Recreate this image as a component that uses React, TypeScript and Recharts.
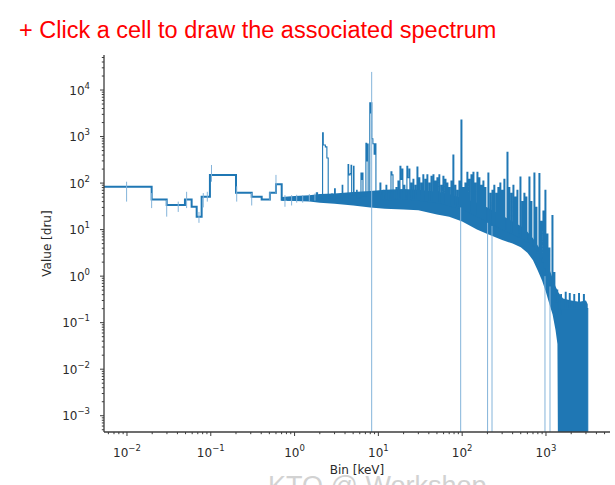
import React from 'react'
import { ComposedChart, Line, Area, Scatter, ErrorBar, XAxis, YAxis, Label } from 'recharts'

const BLUE = '#1f77b4'
const ERR_BLUE = '#84b4da'
const AXIS = '#3c3c3c'
const TEXT = '#2a2a2a'
const FONT = '"DejaVu Sans", sans-serif'

const X_DOMAIN: [number, number] = [0.00532, 5808]
const Y_DOMAIN: [number, number] = [0.000447, 56600]

const xMajor = [0.01, 0.1, 1, 10, 100, 1000]
const yMajor = [0.001, 0.01, 0.1, 1, 10, 100, 1000, 10000]

// spectrum, drawn as steps: bin start [keV] and value [dru]
const binStart = [
  0.005, 0.0197, 0.0298, 0.0492, 0.0591, 0.0679, 0.0778, 0.0977, 0.2, 0.308, 0.405, 0.508, 0.6, 0.702,
  0.76, 0.82, 0.88, 0.95, 1.02, 1.1, 1.18, 1.26, 1.35, 1.45, 1.55, 1.65, 1.75, 1.82, 1.88, 1.98,
  2.1, 2.16, 2.2, 2.33, 2.43, 2.52, 2.6, 2.75, 2.85, 3.0, 3.06, 3.3, 3.45, 3.7, 3.76, 4.0,
  4.35, 4.42, 4.6, 4.72, 4.8, 5.05, 5.12, 5.5, 5.58, 6.2, 6.3, 6.45, 6.55, 7.1, 7.25, 7.45, 7.55,
  7.9, 8.05, 8.2, 8.35, 8.6, 8.9, 9.1, 9.35,
  10.45, 10.7, 11.35, 11.6, 12.33, 12.6, 13.03, 13.35, 14.14, 14.5, 14.95, 16.22, 16.6, 17.14, 17.55,
  18.11, 18.55, 19.14, 19.6, 20.2, 20.7, 21.9, 22.4, 23.2, 23.75, 24.5, 25.1, 25.9, 26.5, 27.4, 28,
  28.9, 29.6, 30.5, 31.2, 32.2, 33, 34, 34.8, 36, 36.9, 38, 38.9, 40.2, 41.2, 42.5, 43.5, 44.9, 46,
  47.3, 48.5, 50, 51.2, 52.8, 54, 55.8, 57.2, 59, 60.5, 62.4, 64, 65.9, 67.5, 69.5, 71.2, 73.5, 75.3,
  77.6, 79.5, 82, 84, 86.7, 88.8, 91.6, 93.9, 96.8, 99.2, 102.3, 104.8, 108, 110.7, 114, 116.8,
  120.5, 123.5, 127.4, 130.5, 134.6, 138, 142.2, 145.7, 150.3, 154, 158.6, 162.5, 167.6, 171.8,
  177, 181.4, 187, 191.7, 203, 208, 215, 220, 227, 232.7, 239, 245, 253, 259, 267, 273.7, 282, 289,
  298, 305.5, 315, 323, 343, 351.6, 361, 370, 382, 391.5, 404, 414, 427, 437.7, 451, 462, 490, 502,
  518, 531, 546, 560, 577, 591, 627, 643, 662, 678.6, 719, 737, 760, 779, 825, 845.6, 871, 893,
  921, 944, 973, 997, 1028, 1054, 1086, 1113, 1180, 1210, 1245, 1276, 1350, 1380,
  1500, 1530, 1700, 1740, 1900, 1945, 2150, 2200, 2450, 2510, 2800, 2870, 3150,
]
const binValue = [
  83, 44.6, 33.6, 44.6, 31, 19, 51, 149, 62, 51, 44.6, 62, 94, 44,
  47, 43, 46, 44, 48, 44, 47, 45, 49, 46, 50, 47, 52, 62, 49, 54,
  48, 1200, 660, 600, 345, 55, 48, 58, 45, 75, 48, 55, 44, 90, 50, 47,
  250, 150, 160, 240, 55, 230, 58, 70, 48, 165, 120, 165, 52, 720, 300, 690, 60,
  5300, 3200, 5300, 900, 700, 420, 700, 60,
  100, 45, 70, 44, 90, 45, 60, 44, 175, 150, 45, 80, 45, 110, 46,
  230, 120, 200, 46, 90, 45, 230, 130, 200, 45, 100, 44, 120, 44, 90, 44,
  220, 43, 130, 42, 100, 42, 150, 41, 120, 41, 150, 40, 100, 40, 140, 39, 150, 39,
  110, 38, 130, 38, 150, 37, 90, 36, 140, 35, 120, 34, 100, 33, 80, 32, 110, 31,
  400, 31, 90, 30, 70, 29, 110, 28, 2250, 27, 80, 26, 100, 25, 170, 24,
  120, 23, 150, 22, 170, 21, 100, 20, 170, 19, 130, 18, 90, 17,
  110, 16, 80, 15, 165, 14, 60, 13, 70, 12.5, 90, 12, 60, 11.5, 80, 11, 100, 10.5,
  70, 10, 120, 9.5, 460, 9, 80, 8.5, 60, 8, 90, 7.6, 50, 7.2, 70, 6.9, 135, 6.5,
  40, 6.2, 60, 5.8, 50, 5.4, 135, 4.8, 40, 4.4, 165, 3.8, 30, 3.2, 160, 2.5, 15, 2,
  25, 1.5, 70, 1.1, 8, 0.85, 4, 0.6, 20, 0.4, 1.2, 0.28, 0.5, 0.15,
  0.4, 0.2, 0.45, 0.2, 0.42, 0.2, 0.4, 0.2, 0.42, 0.2, 0.4, 0.2, 0.0001,
]

// noise band of the dense high-energy part
const bandE = [0.7, 1, 1.5, 2, 3, 5, 8, 12, 20, 30, 50, 70, 100, 150, 200, 300, 400, 500, 600, 700,
  800, 900, 1000, 1100, 1200, 1300, 1370, 1400, 1600, 2000, 2500, 3000, 3150]
const bandLo = [42, 41, 40, 38, 36, 33, 30, 28, 27, 26, 21, 19, 15, 10, 8, 6, 5, 4.2, 3.2, 2.2,
  1.3, 0.8, 0.45, 0.25, 0.15, 0.07, 0.035, 0.00001, 0.00001, 0.00001, 0.00001, 0.00001, 0.00001]
const bandHi = [50, 53, 55, 58, 60, 64, 68, 72, 75, 72, 65, 58, 48, 38, 30, 20, 15, 12, 9, 6.5,
  4.5, 3.3, 2.2, 1.4, 0.9, 0.6, 0.5, 0.45, 0.33, 0.3, 0.28, 0.3, 0.25]

// error bars of the low-energy bins
const errE = [0.0099, 0.0197, 0.0298, 0.0409, 0.0515, 0.0723, 0.0814, 0.0909, 0.102, 0.204, 0.308,
  0.508, 0.6, 0.768, 0.922, 1.06, 1.25, 1.5, 1.75]
const errV = [83, 44.6, 33.6, 33.6, 44.6, 19, 51, 51, 149, 62, 51, 62, 94, 47, 44, 48, 45, 50, 52]
const errLo = [40, 29, 19, 24, 29, 14, 30, 40, 107, 40, 33, 43, 60, 31, 33, 38, 38, 40, 42]
const errHi = [107, 61, 43, 40, 65, 24, 61, 65, 245, 85, 61, 65, 150, 55, 55, 56, 55, 58, 60]

// bins whose error bar reaches below zero
const wideE = [8.32, 96, 201, 227, 973, 1117]
const wideV = [5300, 30, 14, 12, 1, 0.6]
const wideHi = [24500, 30, 14, 12, 1, 0.6]

function minorTicks([lo, hi]: [number, number]) {
  const out: number[] = []
  for (let e = -5; e <= 5; e++) {
    for (let m = 2; m <= 9; m++) {
      const v = m * Math.pow(10, e)
      if (v >= lo && v <= hi) out.push(v)
    }
  }
  return out
}

const xTicks = [...xMajor, ...minorTicks(X_DOMAIN)].sort((a, b) => a - b)
const yTicks = [...yMajor, ...minorTicks(Y_DOMAIN)].sort((a, b) => a - b)

const spectrum = binStart.map((x, i) => ({ x, y: binValue[i] }))
// coarse low-energy bins get the thicker line, the dense part a thinner one
const lowPart = spectrum.filter((d) => d.x <= 0.76)
const densePart = spectrum.filter((d) => d.x >= 0.702)
const band = bandE.map((x, i) => ({ x, y: [bandLo[i], bandHi[i]] }))
const errData = errE.map((x, i) => ({ x, y: errV[i], err: [errV[i] - errLo[i], errHi[i] - errV[i]] }))
const wideData = wideE.map((x, i) => ({
  x,
  y: wideV[i],
  err: [wideV[i] - Y_DOMAIN[0], wideHi[i] - wideV[i]],
}))

function expLabel(v: number) {
  const e = Math.round(Math.log10(v))
  return e < 0 ? '\u2212' + -e : String(e)
}

function XTick(props: any) {
  const { x, y, payload } = props
  const major = xMajor.includes(payload.value)
  return (
    <g>
      <line x1={x} x2={x} y1={y} y2={y + (major ? 4 : 2.2)} stroke={AXIS} strokeWidth={1} />
      {major && (
        <text x={x} y={y + 25} textAnchor="middle" fill={TEXT} fontFamily={FONT} fontSize={12}>
          10<tspan dy={-6} fontSize={8.5}>{expLabel(payload.value)}</tspan>
        </text>
      )}
    </g>
  )
}

function YTick(props: any) {
  const { x, y, payload } = props
  const major = yMajor.includes(payload.value)
  return (
    <g>
      <line x1={x} x2={x - (major ? 4 : 2.2)} y1={y} y2={y} stroke={AXIS} strokeWidth={1} />
      {major && (
        <text x={x - 14} y={y + 4.5} textAnchor="end" fill={TEXT} fontFamily={FONT} fontSize={12}>
          10<tspan dy={-6} fontSize={8.5}>{expLabel(payload.value)}</tspan>
        </text>
      )}
    </g>
  )
}

export default function App() {
  return (
    <div style={{ position: 'absolute', left: 0, top: 0, width: 615, height: 485, background: '#fff', overflow: 'hidden' }}>
      <div
        style={{
          position: 'absolute',
          left: 19,
          top: 19,
          lineHeight: '23px',
          fontSize: 23.5,
          fontFamily: '"Liberation Sans", Arial, sans-serif',
          color: '#ff0000',
          whiteSpace: 'nowrap',
        }}
      >
        + Click a cell to draw the associated spectrum
      </div>
      {/* slide footer peeking in at the bottom */}
      <div
        style={{
          position: 'absolute',
          left: 268,
          top: 473,
          lineHeight: '27px',
          fontSize: 27,
          fontFamily: '"Liberation Sans", Arial, sans-serif',
          color: '#d2d2d2',
          whiteSpace: 'nowrap',
        }}
      >
        KTO @ Workshop
      </div>
      <ComposedChart width={615} height={485} margin={{ top: 55, right: 5, bottom: 0, left: 40 }} style={{ position: 'absolute', left: 0, top: 0 }}>
        <XAxis
          dataKey="x"
          type="number"
          scale="log"
          domain={X_DOMAIN}
          allowDataOverflow
          ticks={xTicks}
          interval={0}
          tick={(p: any) => <XTick {...p} />}
          tickLine={false}
          tickSize={0}
          tickMargin={0}
          height={53}
          axisLine={{ stroke: AXIS, strokeWidth: 1.3 }}
        >
          <Label
            content={(p: any) => {
              const vb = p.viewBox
              return (
                <text x={vb.x + vb.width / 2} y={vb.y + 42} textAnchor="middle" fill={TEXT} fontFamily={FONT} fontSize={12}>
                  Bin [keV]
                </text>
              )
            }}
          />
        </XAxis>
        <XAxis
          xAxisId="top"
          orientation="top"
          type="number"
          scale="log"
          domain={X_DOMAIN}
          allowDataOverflow
          height={0}
          tick={false}
          tickLine={false}
          axisLine={{ stroke: AXIS, strokeWidth: 1.3 }}
        />
        <YAxis
          type="number"
          scale="log"
          domain={Y_DOMAIN}
          allowDataOverflow
          ticks={yTicks}
          interval={0}
          tick={(p: any) => <YTick {...p} />}
          tickLine={false}
          tickSize={0}
          tickMargin={0}
          width={64}
          axisLine={{ stroke: AXIS, strokeWidth: 1.3 }}
        >
          <Label
            content={(p: any) => {
              const vb = p.viewBox
              const cx = vb.x + 7
              const cy = vb.y + vb.height / 2
              return (
                <text
                  x={cx}
                  y={cy}
                  transform={`rotate(-90, ${cx}, ${cy})`}
                  textAnchor="middle"
                  dominantBaseline="central"
                  fill={TEXT}
                  fontFamily={FONT}
                  fontSize={12}
                >
                  Value [dru]
                </text>
              )
            }}
          />
        </YAxis>
        <YAxis
          yAxisId="right"
          orientation="right"
          type="number"
          scale="log"
          domain={Y_DOMAIN}
          allowDataOverflow
          width={0}
          tick={false}
          tickLine={false}
          axisLine={{ stroke: AXIS, strokeWidth: 1.3 }}
        />
        <Area
          data={band}
          dataKey="y"
          type="linear"
          stroke="none"
          fill={BLUE}
          fillOpacity={1}
          isAnimationActive={false}
        />
        <Line
          data={lowPart}
          dataKey="y"
          type="stepAfter"
          stroke={BLUE}
          strokeWidth={2}
          dot={false}
          isAnimationActive={false}
        />
        <Line
          data={densePart}
          dataKey="y"
          type="stepAfter"
          stroke={BLUE}
          strokeWidth={1.1}
          dot={false}
          isAnimationActive={false}
        />
        <Scatter data={errData} dataKey="y" shape={() => <g />} isAnimationActive={false}>
          <ErrorBar dataKey="err" direction="y" width={0} stroke={ERR_BLUE} strokeWidth={1} isAnimationActive={false} />
        </Scatter>
        <Scatter data={wideData} dataKey="y" shape={() => <g />} isAnimationActive={false}>
          <ErrorBar dataKey="err" direction="y" width={0} stroke={ERR_BLUE} strokeWidth={1} isAnimationActive={false} />
        </Scatter>
      </ComposedChart>
    </div>
  )
}
